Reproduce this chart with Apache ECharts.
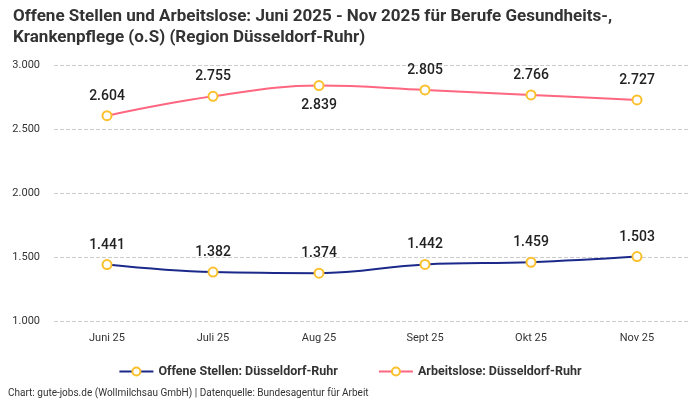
<!DOCTYPE html>
<html><head><meta charset="utf-8">
<script src="https://cdn.jsdelivr.net/npm/echarts@6/dist/echarts.min.js"></script>
<style>html,body{margin:0;padding:0;background:#fff}#c{width:700px;height:400px}</style>
</head><body><div id="c"></div>
<script>
const categories = ['Juni 25','Juli 25','Aug 25','Sept 25','Okt 25','Nov 25'];
const offeneStellen = [1441,1382,1374,1442,1459,1503];
const arbeitslose = [2604,2755,2839,2805,2766,2727];
const arbeitsloseLabelPos = ['top','top','bottom','top','top','top'];

const fmt = v => String(v).replace(/\B(?=(\d{3})+(?!\d))/g, '.');
const font = 'Roboto, "Noto Sans", sans-serif';
const chart = echarts.init(document.getElementById('c'), null, {renderer:'canvas'});
chart.setOption({
  animation:false,
  textStyle:{fontFamily:font},
  title:{
    text:'Offene Stellen und Arbeitslose: Juni 2025 - Nov 2025 für Berufe Gesundheits-,\nKrankenpflege (o.S) (Region Düsseldorf-Ruhr)',
    left:8, top:1,
    textStyle:{fontSize:17,fontWeight:'bold',color:'#333',lineHeight:21,fontFamily:font}
  },
  graphic:[{type:'text',left:8,top:388,style:{text:'Chart: gute-jobs.de (Wollmilchsau GmbH) | Datenquelle: Bundesagentur für Arbeit',fontSize:10,fill:'#333',fontFamily:font}}],
  legend:{
    bottom:17, left:'center', itemGap:40, itemWidth:34, itemHeight:10,
    textStyle:{fontSize:12.5,fontWeight:'bold',color:'#333',fontFamily:font},
    data:['Offene Stellen: Düsseldorf-Ruhr','Arbeitslose: Düsseldorf-Ruhr']
  },
  grid:{left:54,right:10,top:65,bottom:79},
  xAxis:{
    type:'category', data:categories, boundaryGap:true,
    axisLine:{show:false}, axisTick:{show:false},
    axisLabel:{fontSize:11,color:'#333',margin:12}
  },
  yAxis:{
    type:'value', min:1000, max:3000, interval:500,
    axisLabel:{fontSize:11,color:'#333',margin:14,align:'right',formatter:v=>fmt(v)},
    splitLine:{lineStyle:{type:'dashed',color:'#ccc'}}
  },
  series:[
    {name:'Offene Stellen: Düsseldorf-Ruhr',type:'line',smooth:0.4,data:offeneStellen,
     symbol:'circle',symbolSize:9,
     lineStyle:{color:'#1b2a8a',width:2},
     itemStyle:{color:'#fff',borderColor:'#fbc02d',borderWidth:2},
     label:{show:true,position:'top',distance:7,fontSize:14,fontWeight:500,color:'#222',formatter:p=>fmt(p.value)}
    },
    {name:'Arbeitslose: Düsseldorf-Ruhr',type:'line',smooth:0.4,
     data:arbeitslose.map((v,i)=>({value:v,label:{position:arbeitsloseLabelPos[i]}})),
     symbol:'circle',symbolSize:9,
     lineStyle:{color:'#ff6680',width:2},
     itemStyle:{color:'#fff',borderColor:'#fbc02d',borderWidth:2},
     label:{show:true,position:'top',distance:7,fontSize:14,fontWeight:500,color:'#222',formatter:p=>fmt(p.value)}
    }
  ]
});
</script></body></html>
